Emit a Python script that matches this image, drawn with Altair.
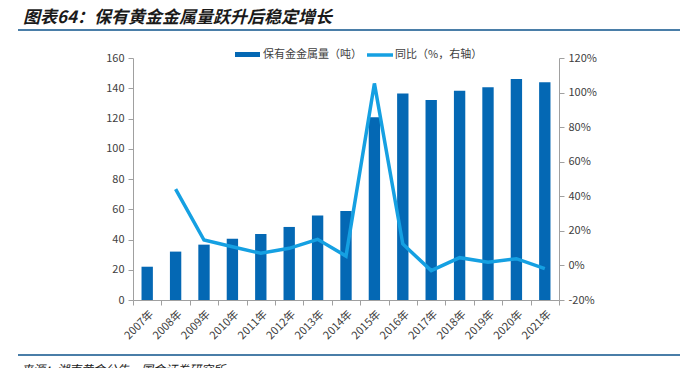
import altair as alt
import pandas as pd

years = [f"{y}年" for y in range(2007, 2022)]
tons = [22, 32, 36.6, 40.5, 43.6, 48.3, 55.8, 58.8, 120.8, 136.6, 132.2, 138.4, 140.6, 146.1, 144]
yoy = [None, 0.442, 0.147, 0.108, 0.07, 0.099, 0.151, 0.054, 1.053, 0.124, -0.03, 0.045, 0.018, 0.039, -0.019]

left_ticks = [0, 20, 40, 60, 80, 100, 120, 140, 160]
right_ticks = [-0.2, 0, 0.2, 0.4, 0.6, 0.8, 1.0, 1.2]

title_text = "图表64：保有黄金金属量跃升后稳定增长"
source_text = "来源：湖南黄金公告，国金证券研究所"
legend_bar = "保有金金属量（吨）"
legend_line = "同比（%，右轴）"

BAR = "#0468B4"
LINE = "#15A0E2"
FONT = "Noto Sans CJK SC"

df = pd.DataFrame({"year": years, "tons": tons, "yoy": yoy})
df_line = df.dropna(subset=["yoy"])
one = pd.DataFrame({"a": [0]})

xdef = alt.X(
    "year:N", sort=years, title=None,
    scale=alt.Scale(paddingInner=0, paddingOuter=0),
    axis=alt.Axis(labelAngle=-45, tickBand="extent", domainColor="#A0A0A0",
                  tickColor="#A0A0A0", tickSize=5, labelFontSize=11,
                  labelColor="#404040", labelFont=FONT, labelPadding=3),
)

bars = alt.Chart(df).mark_bar(color=BAR, width=alt.RelativeBandSize(0.4)).encode(
    x=xdef,
    y=alt.Y("tons:Q", title=None, scale=alt.Scale(domain=[0, 160], nice=False),
            axis=alt.Axis(values=left_ticks, domainColor="#A0A0A0", tickColor="#A0A0A0",
                          tickSize=5, labelFontSize=11, labelColor="#404040",
                          labelFont=FONT, labelPadding=4)),
)

line = alt.Chart(df_line).mark_line(color=LINE, strokeWidth=3.5).encode(
    x=xdef,
    y=alt.Y("yoy:Q", title=None, scale=alt.Scale(domain=[-0.2, 1.2], nice=False),
            axis=alt.Axis(orient="right", values=right_ticks,
                          labelExpr="round(datum.value*100) + '%'",
                          domainColor="#A0A0A0", tickColor="#A0A0A0", tickSize=5,
                          labelFontSize=11, labelColor="#404040", labelFont=FONT,
                          labelPadding=4)),
)

deco = alt.Chart(one)

title = deco.mark_text(align="left", baseline="middle", fontSize=17, fontStyle="italic",
                       fontWeight="bold", font=FONT, color="#1a1a1a").encode(
    x=alt.value(-110), y=alt.value(-40.5), text=alt.value(title_text))
top_line = deco.mark_rule(color="#4A7EA8", strokeWidth=2).encode(
    x=alt.value(-115), x2=alt.value(547), y=alt.value(-28))
bottom_line = deco.mark_rule(color="#4A7EA8", strokeWidth=2).encode(
    x=alt.value(-115), x2=alt.value(547), y=alt.value(297))
source = deco.mark_text(align="left", baseline="alphabetic", fontSize=12, fontStyle="italic",
                        font=FONT, color="#1a1a1a").encode(
    x=alt.value(-112), y=alt.value(316), text=alt.value(source_text))

leg_rect = deco.mark_rect(color=BAR).encode(
    x=alt.value(102), x2=alt.value(127), y=alt.value(-6), y2=alt.value(-1))
leg_rect_t = deco.mark_text(align="left", baseline="middle", fontSize=11, font=FONT,
                            color="#404040").encode(
    x=alt.value(130), y=alt.value(-3), text=alt.value(legend_bar))
leg_line = deco.mark_rule(color=LINE, strokeWidth=3.5).encode(
    x=alt.value(234), x2=alt.value(260), y=alt.value(-3))
leg_line_t = deco.mark_text(align="left", baseline="middle", fontSize=11, font=FONT,
                            color="#404040").encode(
    x=alt.value(262), y=alt.value(-3), text=alt.value(legend_line))

chart = alt.layer(
    bars, line, title, top_line, bottom_line, source, leg_rect, leg_rect_t, leg_line, leg_line_t
).resolve_scale(y="independent").properties(
    width=426, height=242,
    autosize=alt.AutoSizeParams(type="none"),
    padding={"left": 125, "top": 50, "right": 128, "bottom": 68},
).configure_view(stroke=None).configure_axis(grid=False)

chart.save("out.html", embed_options={"renderer": "svg", "actions": False})
